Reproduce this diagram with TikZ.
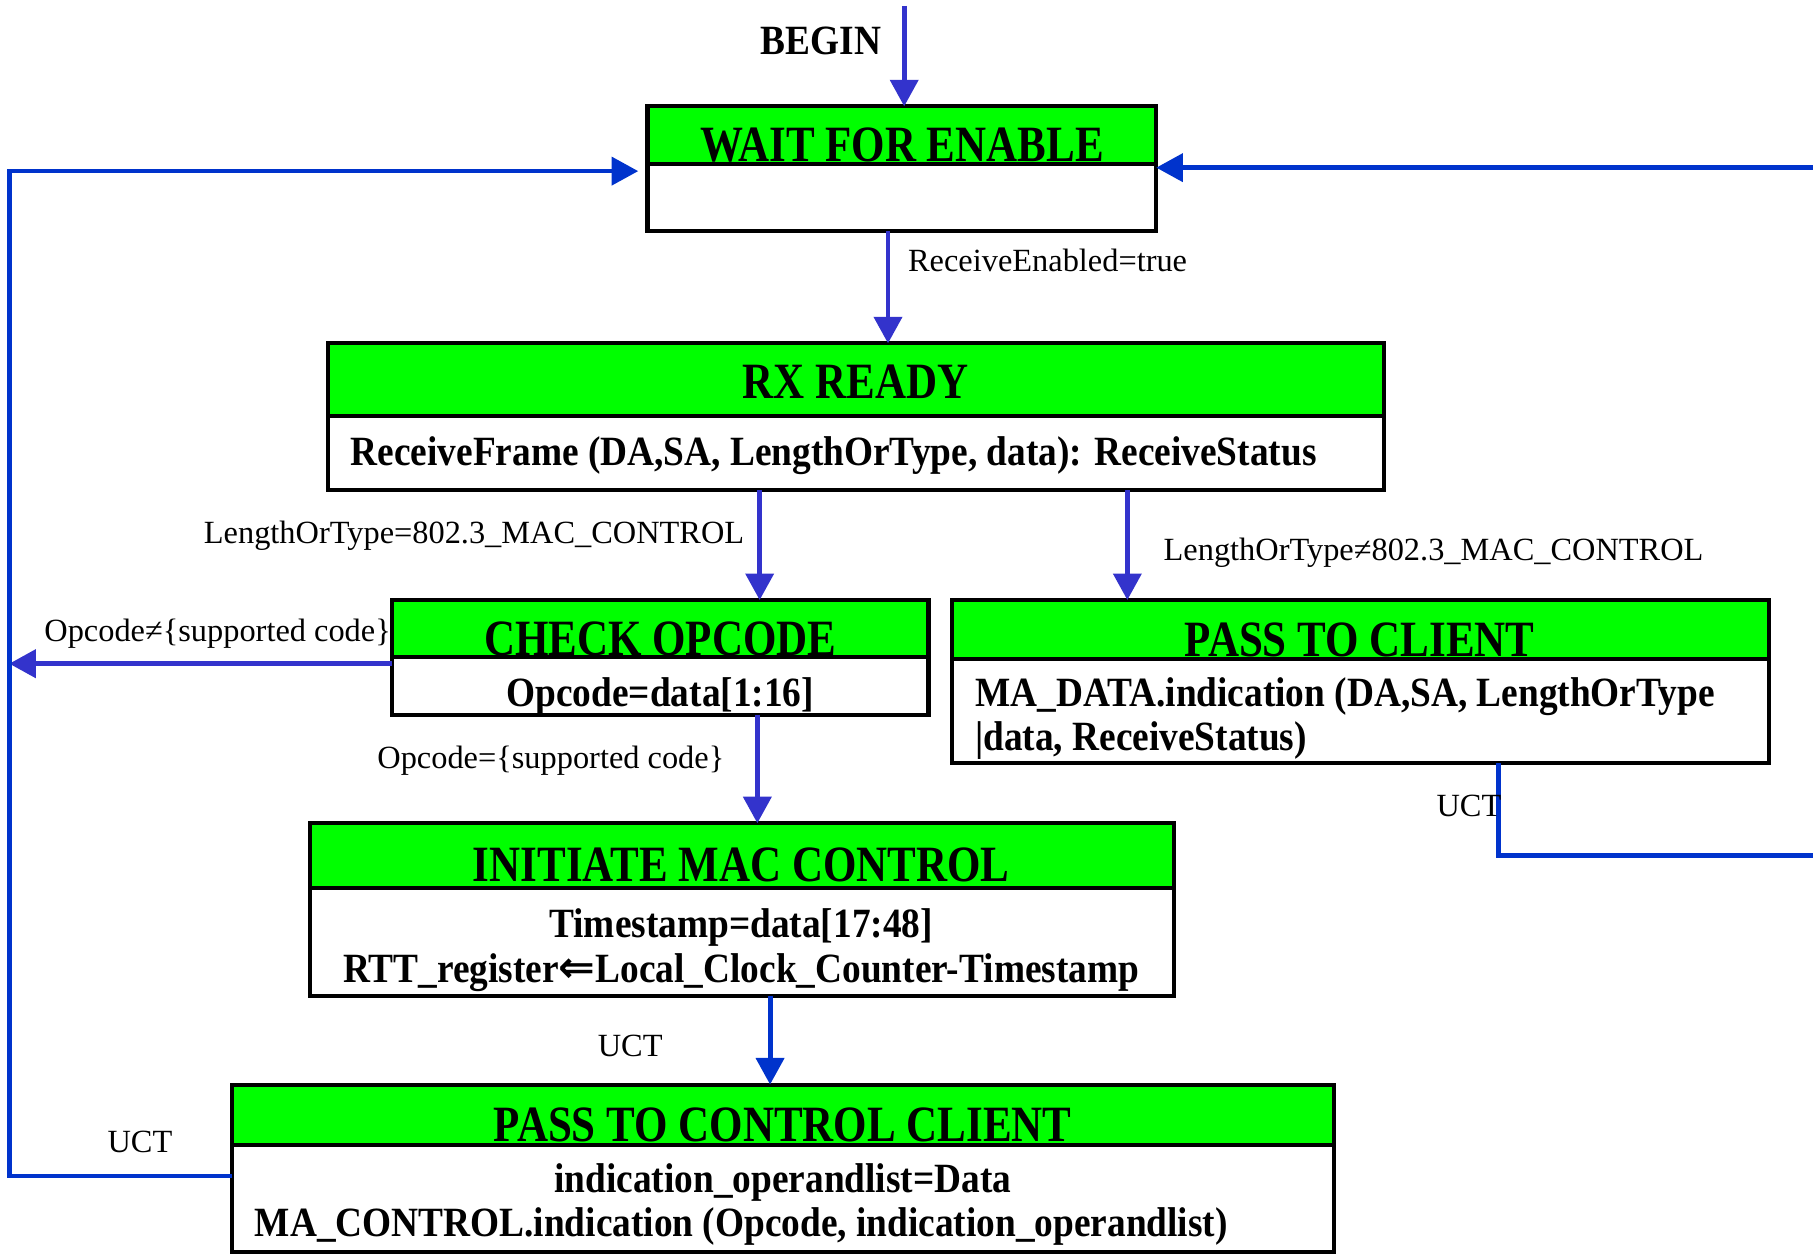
\documentclass[tikz,border=0pt]{standalone}
\usepackage{fontspec}
\setmainfont{Liberation Serif}
\newfontfamily\titlefam[FakeStretch=0.845]{Liberation Serif}
\newfontfamily\bodyfam[FakeStretch=0.897]{Liberation Serif}
\newfontfamily\symfam{DejaVu Sans}
\usetikzlibrary{arrows.meta}
\definecolor{stategreen}{RGB}{0,255,0}
\definecolor{arrowblue}{RGB}{51,51,204}
\definecolor{loopblue}{RGB}{0,51,204}
\tikzset{
  hdr/.style={draw=black, line width=1.75pt, fill=stategreen, inner sep=0pt, outer sep=0pt, anchor=north west},
  bdy/.style={draw=black, line width=1.75pt, fill=white, inner sep=0pt, outer sep=0pt, anchor=north west},
  ttl/.style={inner sep=0pt, anchor=base, font=\titlefam\bfseries\fontsize{22}{22}\selectfont},
  txt/.style={inner sep=0pt, font=\bodyfam\bfseries\fontsize{18}{18}\selectfont},
  lbl/.style={inner sep=0pt, font=\fontsize{14}{14}\selectfont},
  tip/.style={-{Triangle[width=12pt,length=11.5pt]}},
  arr/.style={draw=arrowblue, line width=2.1pt, tip},
  arrB/.style={draw=loopblue, line width=2.1pt, tip},
  loopline/.style={draw=loopblue, line width=2pt},
}
\begin{document}
\begin{tikzpicture}[x=0.5pt,y=-0.5pt]
\useasboundingbox (0,0) rectangle (1568,1085);
\clip (0,0) rectangle (1568,1085);
\fill[white] (0,0) rectangle (1568,1085);

% ---- states ----
\node[hdr, minimum width=220pt, minimum height=25pt] (wfeH) at (560,92) {};
\node[ttl] (wfeT) at (780,140) {WAIT FOR ENABLE};
\node[bdy, minimum width=220pt, minimum height=29pt] (wfeB) at (560,142) {};

\node[hdr, minimum width=456.5pt, minimum height=31.5pt] (rxH) at (284,297) {};
\node[ttl] (rxT) at (740,345) {RX READY};
\node[bdy, minimum width=456.5pt, minimum height=32pt] (rxB) at (284,360) {};
\node[txt, anchor=base west] (rxX) at (303,403) {ReceiveFrame (DA,SA, LengthOrType, data): ReceiveStatus};

\node[hdr, minimum width=232pt, minimum height=24.5pt] (coH) at (339,519) {};
\node[ttl] (coT) at (571,567) {CHECK OPCODE};
\node[bdy, minimum width=232pt, minimum height=25pt] (coB) at (339,568) {};
\node[txt, anchor=base] (coX) at (571,611) {Opcode=data[1:16]};

\node[hdr, minimum width=353.5pt, minimum height=25.5pt] (pcH) at (823,519) {};
\node[ttl] (pcT) at (1176,568) {PASS TO CLIENT};
\node[bdy, minimum width=353.5pt, minimum height=45pt] (pcB) at (823,570) {};
\node[txt, anchor=base west] (pcX1) at (843,611) {MA\_DATA.indication (DA,SA, LengthOrType};
\node[txt, anchor=base west] (pcX2) at (843,649) {|data, ReceiveStatus)};

\node[hdr, minimum width=373.5pt, minimum height=28pt] (imH) at (268,712) {};
\node[ttl] (imT) at (641,762) {INITIATE MAC CONTROL};
\node[bdy, minimum width=373.5pt, minimum height=46.5pt] (imB) at (268,768) {};
\node[txt, anchor=base] (imX1) at (641,811) {Timestamp=data[17:48]};
\node[txt, anchor=base] (imX2) at (641,850) {RTT\_register{\symfam\bfseries\fontsize{19}{19}\selectfont ⇐}Local\_Clock\_Counter-Timestamp};

\node[hdr, minimum width=476.5pt, minimum height=26pt] (ccH) at (201,938) {};
\node[ttl] (ccT) at (677,987) {PASS TO CONTROL CLIENT};
\node[bdy, minimum width=476.5pt, minimum height=46.5pt] (ccB) at (201,990) {};
\node[txt, anchor=base] (ccX1) at (677,1031) {indication\_operandlist=Data};
\node[txt, anchor=base west] (ccX2) at (220,1069) {MA\_CONTROL.indication (Opcode, indication\_operandlist)};

% ---- entry ----
\node[txt, anchor=base] (begin) at (710,47) {BEGIN};
\coordinate (bstart) at (782,5);
\draw[arr] (bstart) -- (bstart |- wfeH.north);

% ---- transitions ----
\coordinate (cRE) at (768,0);
\draw[arr] (cRE |- wfeB.south) -- (cRE |- rxH.north);
\node[lbl, anchor=base west] (lRE) at (785,235) {ReceiveEnabled=true};

\coordinate (cMC) at (657,0);
\draw[arr] (cMC |- rxB.south) -- (cMC |- coH.north);
\node[lbl, anchor=base west] (lMC) at (176,470) {LengthOrType=802.3\_MAC\_CONTROL};

\coordinate (cNM) at (975,0);
\draw[arr] (cNM |- rxB.south) -- (cNM |- pcH.north);
\node[lbl, anchor=base west] (lNM) at (1006,485) {LengthOrType≠802.3\_MAC\_CONTROL};

\coordinate (cBad) at (8,574);
\draw[arr] (cBad -| coB.west) -- (cBad);
\node[lbl, anchor=base west] (lBad) at (38,555) {Opcode≠\{supported code\}};

\coordinate (cOk) at (655,0);
\draw[arr] (cOk |- coB.south) -- (cOk |- imH.north);
\node[lbl, anchor=base west] (lOk) at (326,665) {Opcode=\{supported code\}};

\coordinate (cIm) at (666,0);
\draw[arrB] (cIm |- imB.south) -- (cIm |- ccH.north);
\node[lbl, anchor=base] (lIm) at (545,914) {UCT};

% ---- return paths to WAIT FOR ENABLE ----
\coordinate (lA) at (8,1017);
\coordinate (lB) at (8,148);
\draw[loopline, tip, shorten >=4pt] (lA -| ccB.west) -- (lA) -- (lB) -- (lB -| wfeB.west);
\node[lbl, anchor=base] (lCc) at (121,997) {UCT};

\coordinate (rA) at (1296,740);
\coordinate (rB) at (1640,740);
\coordinate (rC) at (1640,145);
\draw[loopline, tip] (rA |- pcB.south) -- (rA) -- (rB) -- (rC) -- (rC -| wfeB.east);
\node[lbl, anchor=base west] (lPc) at (1242,706) {UCT};
\end{tikzpicture}
\end{document}
